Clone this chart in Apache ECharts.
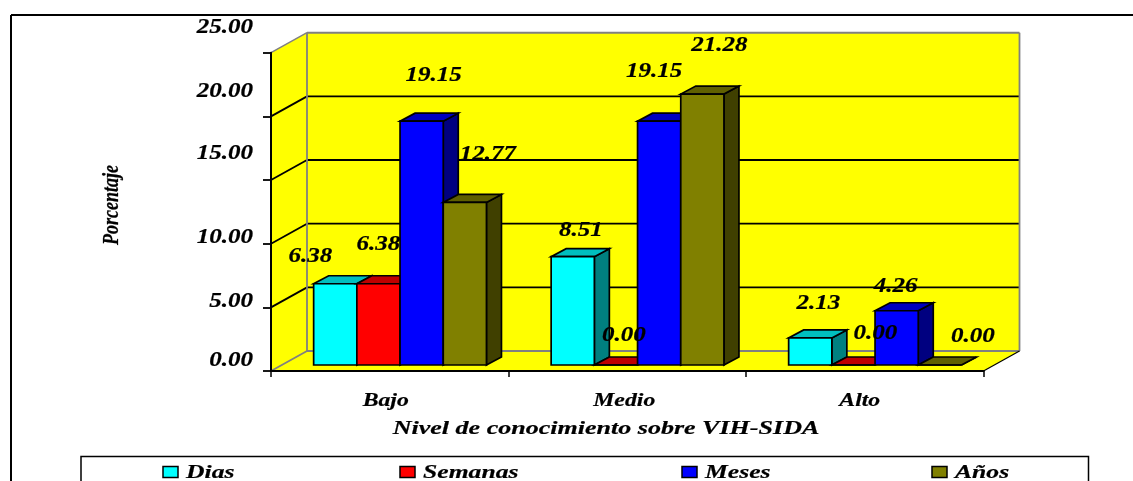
<!DOCTYPE html>
<html>
<head>
<meta charset="utf-8">
<style>html,body{margin:0;padding:0;background:#fff}#c{width:1133px;height:481px}</style>
<script src="https://cdn.jsdelivr.net/npm/echarts@6/dist/echarts.min.js"></script>
</head>
<body>
<div id="c"></div>
<script>
// ---- data ----
const categories = ['Bajo', 'Medio', 'Alto'];
const seriesNames = ['Dias', 'Semanas', 'Meses', 'Años'];
const dias = [6.38, 8.51, 2.13];
const semanas = [6.38, 0.00, 0.00];
const meses = [19.15, 19.15, 4.26];
const anos = [12.77, 21.28, 0.00];
const yTicks = [0, 5, 10, 15, 20, 25];
const yTitle = 'Porcentaje';
const xTitle = 'Nivel de conocimiento sobre VIH-SIDA';

// ---- style / layout (not data) ----
const allValues = [dias, semanas, meses, anos];
const faceColors = [
  {front:'#00ffff', top:'#00bfbf', side:'#008080'},
  {front:'#ff0000', top:'#bf0000', side:'#800000'},
  {front:'#0000ff', top:'#0000bf', side:'#000080'},
  {front:'#808000', top:'#606000', side:'#404000'}
];
const FONT = '"Liberation Serif","Times New Roman",serif';
const WALL = {dx:36, dy:-20};
const BAR_OFF = {dx:10.3, dy:-6};
const BAR_DEPTH = {dx:15, dy:-8};
const BAR_W = 43.2;
// label nudges from a bar's top-front centre: [series][category] -> [dx, dy]
const labelNudge = [
  [[-25,-27],[8,-26],[8,-34]],
  [[0,-39],[8,-29],[22,-31]],
  [[12,-45],[-5,-49],[-1,-24]],
  [[23,-48],[17,-48],[33,-28]]
];
// y tick label shift from its tick position
const tickShift = {0:-10, 5:-6, 10:-6, 15:-26, 20:-25, 25:-25};
const categoryNudge = [-4, -3, -5];

function textStyle(text, size, align) {
  return {text:text, font:'italic bold '+size+'px '+FONT, fill:'#000',
    stroke:'#000', lineWidth:0.2, align:align||'center', verticalAlign:'middle'};
}
function stretched(text, x, y, size, sx, align) {
  return {type:'text', x:x, y:y, scaleX:sx, scaleY:1, z2:50, silent:true, style:textStyle(text, size, align)};
}
function poly(points, fill, stroke, lw) {
  return {type:'polygon', shape:{points:points},
    style:{fill:fill, stroke:stroke||null, lineWidth:lw||0, lineJoin:'miter'}};
}
function seg(x1,y1,x2,y2,color,lw){
  return {type:'line', shape:{x1:x1,y1:y1,x2:x2,y2:y2}, style:{stroke:color,lineWidth:lw}};
}

function renderWalls(params, api) {
  const cs = params.coordSys;
  const L = cs.x, R = cs.x + cs.width, B = cs.y + cs.height, T = cs.y;
  const d = WALL;
  const kids = [
    poly([[L,B],[L+d.dx,B+d.dy],[L+d.dx,T+d.dy],[L,T]], '#ffff00'),
    poly([[L,B],[R,B],[R+d.dx,B+d.dy],[L+d.dx,B+d.dy]], '#ffff00'),
    poly([[L+d.dx,T+d.dy],[R+d.dx,T+d.dy],[R+d.dx,B+d.dy],[L+d.dx,B+d.dy]], '#ffff00')
  ];
  yTicks.forEach(function(v){
    if (v === 0 || v === 25) return;
    const y = api.coord([0,v])[1];
    kids.push(seg(L,y,L+d.dx,y+d.dy,'#000',1.8));
    kids.push(seg(L+d.dx,y+d.dy,R+d.dx,y+d.dy,'#000',1.8));
  });
  kids.push(seg(L,T,L+d.dx,T+d.dy,'#808080',1.5));
  kids.push(seg(L+d.dx,T+d.dy,R+d.dx,T+d.dy,'#808080',2));
  kids.push(seg(L+d.dx,T+d.dy,L+d.dx,B+d.dy,'#808080',1.8));
  kids.push(seg(R+d.dx,T+d.dy,R+d.dx,B+d.dy,'#808080',1.8));
  kids.push(seg(L,B,L+d.dx,B+d.dy,'#808080',1.8));
  kids.push(seg(L+d.dx,B+d.dy,R+d.dx,B+d.dy,'#808080',1.8));
  kids.push(seg(R,B,R+d.dx,B+d.dy,'#000',1.2));
  return {type:'group', children:kids};
}

function renderBar(sIdx) {
  return function(params, api) {
    const c = faceColors[sIdx];
    const cx = api.coord([api.value(0), 0])[0];
    const yTop = api.coord([0, api.value(1)])[1] + BAR_OFF.dy;
    const y0 = api.coord([0, 0])[1] + BAR_OFF.dy;
    const x0 = cx + BAR_OFF.dx + (sIdx - 2) * BAR_W;
    const x1 = x0 + BAR_W;
    const dx = BAR_DEPTH.dx, dy = BAR_DEPTH.dy;
    return {type:'group', children:[
      poly([[x1,y0],[x1+dx,y0+dy],[x1+dx,yTop+dy],[x1,yTop]], c.side, '#000', 1.7),
      poly([[x0,yTop],[x1,yTop],[x1+dx,yTop+dy],[x0+dx,yTop+dy]], c.top, '#000', 1.7),
      poly([[x0,y0],[x1,y0],[x1,yTop],[x0,yTop]], c.front, '#000', 1.7)
    ]};
  };
}

function renderValueLabel(params, api) {
  const s = api.value(0), k = api.value(1), v = api.value(2);
  const n = labelNudge[s][k];
  const cx = api.coord([k, 0])[0] + BAR_OFF.dx + (s - 1.5) * BAR_W;
  const y = api.coord([0, v])[1] + BAR_OFF.dy;
  return stretched(v.toFixed(2), cx + n[0], y + n[1], 20, 1.25);
}

function renderTickLabel(params, api) {
  const v = api.value(0);
  const y = api.coord([0, v])[1] + tickShift[v];
  return stretched(v.toFixed(2), params.coordSys.x - 18, y, 20, 1.25, 'right');
}

function renderCategoryLabel(params, api) {
  const k = api.value(0);
  return stretched(categories[k], api.coord([k,0])[0] + categoryNudge[k], 401.5, 19, 1.25);
}

const valueLabelData = [];
allValues.forEach(function(arr, s){ arr.forEach(function(v, k){ valueLabelData.push([s, k, v]); }); });

const barSeries = seriesNames.map(function(name, s){
  return {
    type:'custom', name:name, z:3, clip:false, silent:true,
    renderItem:renderBar(s),
    encode:{x:0, y:1},
    data:allValues[s].map(function(v, k){ return [k, v]; })
  };
});

// legend entries drawn so that the wide stretched lettering of the original can be kept
const legendX = [[163, 186], [400, 423], [682, 705], [932, 955]];
const legendGraphics = [];
seriesNames.forEach(function(name, s){
  legendGraphics.push({type:'rect', shape:{x:legendX[s][0], y:466.5, width:15, height:11},
    style:{fill:faceColors[s].front, stroke:'#000', lineWidth:1.5}, z:10});
  legendGraphics.push({type:'text', x:legendX[s][1], y:473.5, scaleX:1.35, scaleY:1, z:10,
    style:textStyle(name, 19, 'left')});
});

const option = {
  backgroundColor:'#fff',
  animation:false,
  grid:{left:271, top:52.7, width:712.5, height:318.3, containLabel:false},
  xAxis:{type:'category', data:categories, boundaryGap:true, z:4,
    axisLine:{show:true, lineStyle:{color:'#000', width:2}},
    axisTick:{show:true, alignWithLabel:false, length:6, lineStyle:{color:'#000', width:1.5}},
    axisLabel:{show:false}, splitLine:{show:false}},
  yAxis:{type:'value', min:0, max:25, interval:5, z:4,
    axisLine:{show:true, lineStyle:{color:'#000', width:2}},
    axisTick:{show:true, length:8, lineStyle:{color:'#000', width:1.8}},
    axisLabel:{show:false}, splitLine:{show:false}},
  graphic:{elements:[
    {type:'line', shape:{x1:11,y1:15,x2:1133,y2:15}, style:{stroke:'#000',lineWidth:2}, z:0},
    {type:'line', shape:{x1:11,y1:15,x2:11,y2:481}, style:{stroke:'#000',lineWidth:2}, z:0},
    {type:'rect', shape:{x:81,y:456.5,width:1007.5,height:40}, style:{fill:'#fff',stroke:'#000',lineWidth:1.5}, z:1},
    {type:'text', x:112, y:205, rotation:Math.PI/2, scaleX:1, scaleY:1.25, z:10,
      style:textStyle(yTitle, 18)},
    {type:'text', x:606, y:429, scaleX:1.37, scaleY:1, z:10,
      style:textStyle(xTitle, 19)}
  ].concat(legendGraphics)},
  series:[
    {type:'custom', name:'walls', z:1, clip:false, silent:true, renderItem:renderWalls, data:[[0,0]], encode:{x:0,y:1}}
  ].concat(barSeries).concat([
    {type:'custom', name:'valueLabels', z:5, clip:false, silent:true, renderItem:renderValueLabel, data:valueLabelData},
    {type:'custom', name:'yTickLabels', z:5, clip:false, silent:true, renderItem:renderTickLabel, data:yTicks.map(function(v){return [v];})},
    {type:'custom', name:'categoryLabels', z:5, clip:false, silent:true, renderItem:renderCategoryLabel, data:categories.map(function(c,k){return [k];})}
  ])
};
const chart = echarts.init(document.getElementById('c'), null, {renderer:'canvas'});
chart.setOption(option);
</script>
</body>
</html>
